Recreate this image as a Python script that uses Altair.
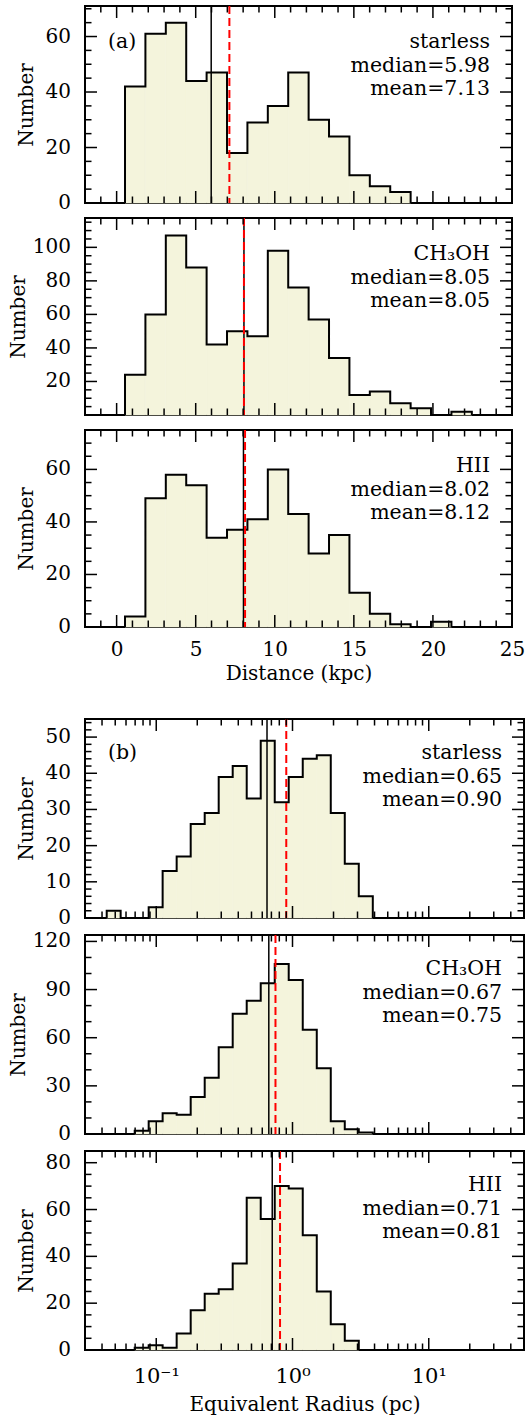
import altair as alt
import pandas as pd

FONT = "DejaVu Serif"
FS = 20
FS_TXT = 20.5
FILL = "#f4f4dc"

panel_names = ["starless", "CH\u2083OH", "HII"]

# ---------- (a) Distance histograms ----------
dist_edges = [0.53, 1.82, 3.11, 4.40, 5.69, 6.98, 8.27, 9.56, 10.85, 12.14,
              13.43, 14.72, 16.01, 17.30, 18.59, 19.88, 21.17, 22.46]
dist_starless = [42, 61, 65, 44, 47, 18, 29, 35, 47, 30, 24, 10, 6, 4, 0, 0, 0]
dist_ch3oh = [24, 60, 107, 88, 42, 50, 47, 98, 76, 57, 34, 12, 14, 7, 4, 0, 2]
dist_hii = [4, 49, 58, 54, 34, 37, 41, 60, 43, 28, 35, 13, 5, 1, 0, 2, 0]
dist_median = [5.98, 8.05, 8.02]
dist_mean = [7.13, 8.05, 8.12]
dist_ymax = [71, 117.5, 75]
dist_ylabels = [[0, 20, 40, 60], [20, 40, 60, 80, 100], [0, 20, 40, 60]]
dist_ymajor_step = [20, 20, 20]
dist_yminor_step = [5, 5, 5]
dist_xdomain = [-2, 25]
dist_xlabels = [0, 5, 10, 15, 20, 25]

# ---------- (b) Equivalent radius histograms ----------
rad_edges = [0.0433, 0.0548, 0.0695, 0.0880, 0.1114, 0.1412, 0.1790, 0.2268,
             0.2873, 0.3640, 0.4613, 0.5845, 0.7407, 0.9380, 1.189, 1.507,
             1.909, 2.419, 3.065, 3.884]
rad_starless = [2, 0, 0, 3, 13, 17, 26, 29, 39, 42, 33, 49, 32, 39, 44, 45, 29, 15, 6]
rad_ch3oh = [0, 0, 2, 8, 13, 12, 23, 35, 54, 75, 83, 94, 106, 96, 65, 41, 8, 3, 1]
rad_hii = [0, 0, 1, 2, 1, 7, 17, 24, 26, 37, 65, 56, 70, 69, 49, 25, 11, 4, 0]
rad_median = [0.65, 0.67, 0.71]
rad_mean = [0.90, 0.75, 0.81]
rad_ymax = [55, 124, 85]
rad_ylabels = [[0, 10, 20, 30, 40, 50], [0, 30, 60, 90, 120], [0, 20, 40, 60, 80]]
rad_ymajor_step = [10, 30, 20]
rad_yminor_step = [2, 10, 5]
rad_xdomain = [0.03, 50]
rad_xlabels = [0.1, 1, 10]
rad_xminor = [0.04, 0.05, 0.06, 0.07, 0.08, 0.09,
              0.2, 0.3, 0.4, 0.5, 0.6, 0.7, 0.8, 0.9,
              2, 3, 4, 5, 6, 7, 8, 9, 20, 30, 40]

MAJ = 12
MIN = 6.5


def hist_frames(edges, counts):
    nz = [i for i, c in enumerate(counts) if c > 0]
    i0, i1 = nz[0], nz[-1]
    bins = pd.DataFrame({"lo": edges[i0:i1 + 1], "hi": edges[i0 + 1:i1 + 2],
                         "n": counts[i0:i1 + 1]})
    xs = [edges[i0]] + edges[i0:i1 + 1] + [edges[i1 + 1]]
    ys = [0] + counts[i0:i1 + 1] + [0]
    outline = pd.DataFrame({"x": xs, "y": ys, "i": list(range(len(xs)))})
    return bins, outline


def X(field, xsc, has_axis):
    if has_axis:
        return alt.X(field, scale=xsc)
    return alt.X(field, scale=xsc, axis=None)


def Y(field, ysc):
    return alt.Y(field, scale=ysc)


def rules_x(vals, xsc, H, L, has_axis):
    df = pd.DataFrame({"t": vals})
    base = alt.Chart(df).mark_rule(color="black", strokeWidth=1.5)
    b = base.encode(x=X("t:Q", xsc, has_axis), y=alt.value(H), y2=alt.value(H - L))
    t = base.encode(x=X("t:Q", xsc, has_axis), y=alt.value(0), y2=alt.value(L))
    return [b, t]


def rules_y(vals, ysc, W, L):
    df = pd.DataFrame({"t": vals})
    base = alt.Chart(df).mark_rule(color="black", strokeWidth=1.5)
    l = base.encode(y=Y("t:Q", ysc), x=alt.value(0), x2=alt.value(L))
    r = base.encode(y=Y("t:Q", ysc), x=alt.value(W), x2=alt.value(W - L))
    return [l, r]


def text(s, x, y, align):
    return alt.Chart(pd.DataFrame({"s": [s]})).mark_text(
        align=align, baseline="alphabetic", font=FONT, fontSize=FS_TXT, color="black"
    ).encode(x=alt.value(x), y=alt.value(y), text="s:N")


def panel(W, H, xsc, edges, counts, med, mean, ymax, ylabels, ymaj, ymin,
          xmajor, xminor, name, tag, xaxis, text_y, title_pad):
    ysc = alt.Scale(domain=[0, ymax], nice=False, zero=False)
    bins, outline = hist_frames(edges, counts)
    has_axis = xaxis is not None
    yaxis = alt.Axis(ticks=False, domain=False, grid=False, labels=False,
                     title="Number", titlePadding=title_pad)
    fill = alt.Chart(bins).mark_rect(color=FILL, stroke=FILL, strokeWidth=0.6).encode(
        x=alt.X("lo:Q", scale=xsc, axis=xaxis),
        x2="hi:Q",
        y=alt.Y("n:Q", scale=ysc, axis=yaxis),
        y2=alt.datum(0),
    )
    line = alt.Chart(outline).mark_line(color="black", strokeWidth=2,
                                        interpolate="step-after").encode(
        x=X("x:Q", xsc, has_axis),
        y=Y("y:Q", ysc),
        order="i:Q",
    )
    medl = alt.Chart(pd.DataFrame({"v": [med]})).mark_rule(
        color="black", strokeWidth=1.5).encode(x=X("v:Q", xsc, has_axis))
    meanl = alt.Chart(pd.DataFrame({"v": [mean]})).mark_rule(
        color="#ff0000", strokeWidth=2, strokeDash=[8, 4]).encode(
        x=X("v:Q", xsc, has_axis))
    ylab = alt.Chart(pd.DataFrame({"t": ylabels})).mark_text(
        align="right", baseline="middle", font=FONT, fontSize=FS, color="black"
    ).encode(y=Y("t:Q", ysc), x=alt.value(-14), text=alt.Text("t:Q", format="d"))
    ymajor_vals = [v * ymaj for v in range(0, int(ymax // ymaj) + 1)]
    yminor_vals = [v * ymin for v in range(1, int(ymax // ymin) + 1)
                   if (v * ymin) % ymaj != 0]
    layers = [fill, line, medl, meanl, ylab]
    layers += rules_x(xmajor, xsc, H, MAJ, has_axis) + rules_x(xminor, xsc, H, MIN, has_axis)
    layers += rules_y(ymajor_vals, ysc, W, MAJ) + rules_y(yminor_vals, ysc, W, MIN)
    layers += [text(name, W - 22, text_y[0], "right"),
               text("median=%.2f" % med, W - 22, text_y[1], "right"),
               text("mean=%.2f" % mean, W - 22, text_y[2], "right")]
    if tag:
        layers.append(text(tag, 23, text_y[0], "left"))
    return alt.layer(*layers).properties(width=W, height=H)


TITLE_PAD = [49, 57, 49]

# (a)
WA, HA = 427, 197
xsa = alt.Scale(domain=dist_xdomain, nice=False, zero=False)
a_major = [v for v in range(0, 26, 5)]
a_minor = [v for v in range(-1, 25) if v % 5 != 0]
dist_counts = [dist_starless, dist_ch3oh, dist_hii]
a_panels = []
for k in range(3):
    xaxis = None
    if k == 2:
        xaxis = alt.Axis(values=dist_xlabels, ticks=False, domain=False, grid=False,
                         title="Distance (kpc)", labelPadding=12, titlePadding=4,
                         labelFlush=False, format="d")
    a_panels.append(panel(WA, HA, xsa, dist_edges, dist_counts[k], dist_median[k],
                          dist_mean[k], dist_ymax[k], dist_ylabels[k],
                          dist_ymajor_step[k], dist_yminor_step[k], a_major, a_minor,
                          panel_names[k], "(a)" if k == 0 else None, xaxis,
                          [42, 66, 89], TITLE_PAD[k]))

# (b)
WB, HB = 439, 199
xsb = alt.Scale(type="log", domain=rad_xdomain, nice=False)
rad_counts = [rad_starless, rad_ch3oh, rad_hii]
b_panels = []
for k in range(3):
    xaxis = None
    if k == 2:
        xaxis = alt.Axis(values=rad_xlabels, ticks=False, domain=False, grid=False,
                         title="Equivalent Radius (pc)", labelPadding=15, titlePadding=8,
                         labelFlush=False, labelFontSize=21,
                         labelExpr="datum.value < 0.5 ? '10\u207b\u00b9' : (datum.value < 5 ? '10\u2070' : '10\u00b9')")
    b_panels.append(panel(WB, HB, xsb, rad_edges, rad_counts[k], rad_median[k],
                          rad_mean[k], rad_ymax[k], rad_ylabels[k],
                          rad_ymajor_step[k], rad_yminor_step[k], rad_xlabels, rad_xminor,
                          panel_names[k], "(b)" if k == 0 else None, xaxis,
                          [40, 64, 87], TITLE_PAD[k]))

A = alt.vconcat(*a_panels, spacing=15, bounds="flush")
B = alt.vconcat(*b_panels, spacing=17, bounds="flush")

chart = alt.vconcat(A, B, spacing=33).properties(
    padding={"left": 7, "top": 4, "right": 4, "bottom": 2}
).configure_view(stroke="black", strokeWidth=2).configure_axis(
    labelFont=FONT, titleFont=FONT, labelFontSize=FS, titleFontSize=FS,
    titleFontWeight="normal", labelColor="black", titleColor="black",
    labelOverlap=False
)

chart.save("out.html", embed_options={"renderer": "svg", "actions": False})
